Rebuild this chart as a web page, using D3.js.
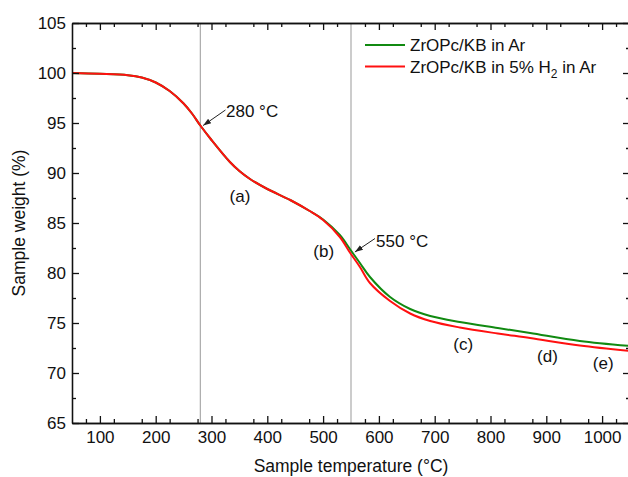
<!DOCTYPE html>
<html>
<head>
<meta charset="utf-8">
<script src="https://cdn.jsdelivr.net/npm/d3@7"></script>
<style>
  body { margin: 0; background: #fff; }
  svg text { font-family: Arial, "Liberation Sans", sans-serif; fill: #111; }
</style>
</head>
<body>
<script>
// TGA curves
var temps    = [50, 100, 150, 175, 200, 225, 250, 265, 280, 300, 333, 350, 369, 400, 441, 476, 500, 530, 548, 566, 584, 620, 656, 692, 745, 813, 871, 960, 1050];
var weightAr = [100, 99.92, 99.78, 99.55, 99.05, 98.2, 96.95, 95.95, 94.75, 93.3, 91.1, 90.2, 89.4, 88.4, 87.3, 86.2, 85.35, 83.8, 82.4, 81.0, 79.6, 77.6, 76.4, 75.7, 75.1, 74.5, 74.0, 73.2, 72.7];
var weightH2 = [100, 99.92, 99.78, 99.55, 99.05, 98.2, 96.95, 95.95, 94.75, 93.3, 91.1, 90.2, 89.4, 88.4, 87.3, 86.2, 85.3, 83.6, 82.05, 80.6, 79.0, 77.2, 75.95, 75.2, 74.55, 73.95, 73.5, 72.75, 72.2];

var xTicks = [100, 200, 300, 400, 500, 600, 700, 800, 900, 1000];
var yTicks = [65, 70, 75, 80, 85, 90, 95, 100, 105];
var markers = [280, 550];

var seriesNames = ["ZrOPc/KB in Ar", "ZrOPc/KB in 5% H"];
var seriesColors = ["#118a11", "#ff1010"];

var stageLabels = [
  {t: "(a)", x: 351, y: 87.1},
  {t: "(b)", x: 501, y: 81.6},
  {t: "(c)", x: 751, y: 72.3},
  {t: "(d)", x: 902, y: 71.1},
  {t: "(e)", x: 1002, y: 70.4}
];
var arrows = [
  {t: "280 °C", tx: 326, ty: 95.6, x1: 325, y1: 96.3, x2: 285, y2: 94.75},
  {t: "550 °C", tx: 595, ty: 82.6, x1: 593, y1: 83.45, x2: 557, y2: 82.1}
];

var W = 628, H = 477;
var svg = d3.select("body").append("svg")
    .attr("width", W).attr("height", H);

var x = d3.scaleLinear().domain([50, 1050]).range([72, 630]);
var y = d3.scaleLinear().domain([65, 105]).range([423, 23]);

svg.append("defs").append("marker")
    .attr("id", "arr")
    .attr("viewBox", "0 0 10 10")
    .attr("refX", 10).attr("refY", 5)
    .attr("markerWidth", 8).attr("markerHeight", 8)
    .attr("orient", "auto")
    .append("path")
    .attr("d", "M0,1.5 L10,5 L0,8.5 Z")
    .attr("fill", "#222");

// vertical reference lines
svg.selectAll(".vline").data(markers).enter().append("line")
    .attr("x1", function(d) { return x(d); }).attr("x2", function(d) { return x(d); })
    .attr("y1", y(105)).attr("y2", y(65))
    .attr("stroke", "#aaa").attr("stroke-width", 1.2);

// curves
var line = d3.line()
    .x(function(d) { return x(d[0]); })
    .y(function(d) { return y(d[1]); })
    .curve(d3.curveCatmullRom.alpha(0.5));

[weightAr, weightH2].forEach(function(w, i) {
  svg.append("path")
      .datum(temps.map(function(t, j) { return [t, w[j]]; }))
      .attr("d", line)
      .attr("fill", "none")
      .attr("stroke", seriesColors[i])
      .attr("stroke-width", 2);
});

// axes
function styleAxis(g) {
  g.select(".domain").attr("stroke", "#111").attr("stroke-width", 1.3);
  g.selectAll(".tick line").attr("stroke", "#111").attr("stroke-width", 1.3);
  g.selectAll("text").attr("font-size", 17).attr("fill", "#111")
      .attr("font-family", "Arial, 'Liberation Sans', sans-serif");
}
var xMinor = d3.range(75, 1050, 50).filter(function(v) { return v % 100 !== 0; });
var yMinor = d3.range(67.5, 105, 5);
var fmt = d3.format("d");

svg.append("g").attr("transform", "translate(0," + y(65) + ")")
    .call(d3.axisBottom(x).tickValues(xTicks).tickFormat(fmt).tickSize(-7).tickPadding(8).tickSizeOuter(0))
    .call(styleAxis);
svg.append("g").attr("transform", "translate(0," + y(65) + ")")
    .call(d3.axisBottom(x).tickValues(xMinor).tickSize(-4).tickFormat("").tickSizeOuter(0))
    .call(styleAxis);
svg.append("g").attr("transform", "translate(0," + y(105) + ")")
    .call(d3.axisTop(x).tickValues(xTicks).tickSize(-7).tickFormat("").tickSizeOuter(0))
    .call(styleAxis);
svg.append("g").attr("transform", "translate(0," + y(105) + ")")
    .call(d3.axisTop(x).tickValues(xMinor).tickSize(-4).tickFormat("").tickSizeOuter(0))
    .call(styleAxis);
svg.append("g").attr("transform", "translate(" + x(50) + ",0)")
    .call(d3.axisLeft(y).tickValues(yTicks).tickFormat(fmt).tickSize(-7).tickPadding(6).tickSizeOuter(0))
    .call(styleAxis);
svg.append("g").attr("transform", "translate(" + x(50) + ",0)")
    .call(d3.axisLeft(y).tickValues(yMinor).tickSize(-4).tickFormat("").tickSizeOuter(0))
    .call(styleAxis);
svg.append("g").attr("transform", "translate(" + x(1050) + ",0)")
    .call(d3.axisRight(y).tickValues(yTicks).tickSize(-7).tickFormat("").tickSizeOuter(0))
    .call(styleAxis);
svg.append("g").attr("transform", "translate(" + x(1050) + ",0)")
    .call(d3.axisRight(y).tickValues(yMinor).tickSize(-4).tickFormat("").tickSizeOuter(0))
    .call(styleAxis);

// axis titles
svg.append("text")
    .attr("x", (x(50) + x(1050)) / 2).attr("y", 472)
    .attr("text-anchor", "middle").attr("font-size", 17.5)
    .text("Sample temperature (°C)");
svg.append("text")
    .attr("transform", "translate(25," + (y(65) + y(105)) / 2 + ") rotate(-90)")
    .attr("text-anchor", "middle").attr("font-size", 17.5)
    .text("Sample weight (%)");

// annotations
svg.selectAll(".stage").data(stageLabels).enter().append("text")
    .attr("x", function(d) { return x(d.x); })
    .attr("y", function(d) { return y(d.y); })
    .attr("text-anchor", "middle").attr("font-size", 17)
    .text(function(d) { return d.t; });

arrows.forEach(function(a) {
  svg.append("line")
      .attr("x1", x(a.x1)).attr("y1", y(a.y1))
      .attr("x2", x(a.x2)).attr("y2", y(a.y2))
      .attr("stroke", "#222").attr("stroke-width", 1)
      .attr("marker-end", "url(#arr)");
  svg.append("text")
      .attr("x", x(a.tx)).attr("y", y(a.ty))
      .attr("font-size", 17)
      .text(a.t);
});

// legend
var leg = svg.append("g").attr("transform", "translate(365,45)");
seriesNames.forEach(function(name, i) {
  var g = leg.append("g").attr("transform", "translate(0," + i * 21.5 + ")");
  g.append("line").attr("x1", 0).attr("x2", 40).attr("y1", 0).attr("y2", 0)
      .attr("stroke", seriesColors[i]).attr("stroke-width", 2);
  var t = g.append("text").attr("x", 45).attr("y", 6).attr("font-size", 17).text(name);
  if (i === 1) {
    t.append("tspan").attr("dy", 5).attr("font-size", 12).text("2");
    t.append("tspan").attr("dy", -5).text(" in Ar");
  }
});
</script>
</body>
</html>
